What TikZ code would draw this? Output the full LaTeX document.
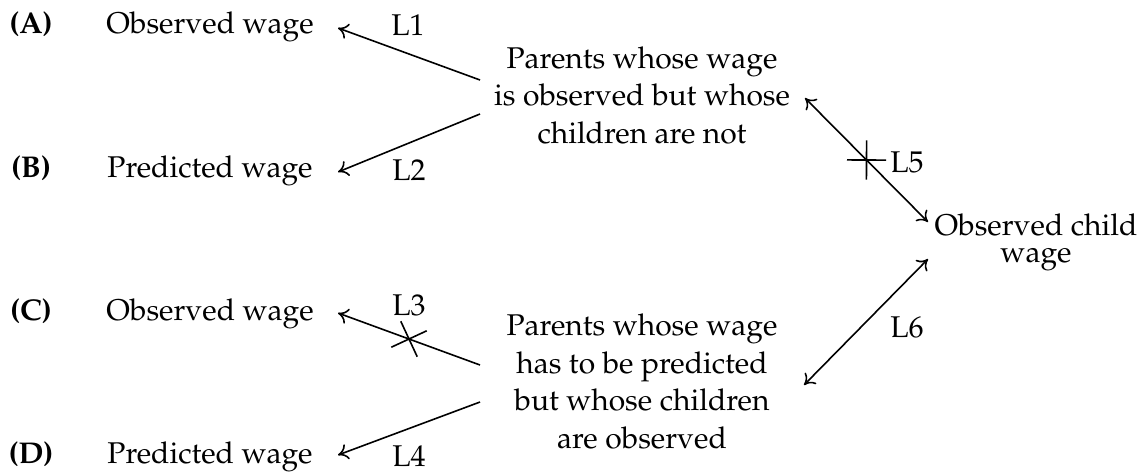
\documentclass[tikz,border=0pt]{standalone}
\usepackage[T1]{fontenc}
\usepackage{mathpazo}
\usetikzlibrary{arrows.meta,calc,shapes.misc}
\begin{document}
\begin{tikzpicture}[x=0.5pt,y=-0.5pt,
  txt/.style={inner sep=0pt,anchor=base,font=\fontsize{15}{18.75}\selectfont},
  lab/.style={txt,font=\fontsize{15}{18.75}\selectfont\bfseries},
  tip/.style={},
  arr/.style={line width=0.8pt,-{To[length=5pt,width=8pt]}},
  darr/.style={line width=0.8pt,{To[length=5pt,width=8pt]}-{To[length=5pt,width=8pt]}},
  xmark/.style={draw,cross out,sloped,line width=0.8pt,inner sep=0pt,minimum size=13pt}]
\useasboundingbox (0,0) rectangle (1144,473);
% row labels
\node[lab] (la) at (31,33) {(A)};
\node[lab] (lb) at (31,177) {(B)};
\node[lab] (lc) at (31,320) {(C)};
\node[lab] (ld) at (31,463) {(D)};
% left nodes
\node[txt] (oa) at (210,33) {Observed wage};
\node[txt] (pb) at (210,177) {Predicted wage};
\node[txt] (oc) at (210,320) {Observed wage};
\node[txt] (pd) at (210,463) {Predicted wage};
% parents nodes
\node[txt] (p1) at (642,143) {\begin{tabular}[b]{@{}c@{}}Parents whose wage\\ is observed but whose\\ children are not\end{tabular}};
\node[txt] (p2) at (642,448) {\begin{tabular}[b]{@{}c@{}}Parents whose wage\\ has to be predicted\\ but whose children\\ are observed\end{tabular}};
% child node
\node[txt] (ch) at (1036,262) {\renewcommand{\arraystretch}{0.72}\begin{tabular}[b]{@{}c@{}}Observed child\\ wage\end{tabular}};
% connectors
\draw[arr] ($(p1.base)+(-162,-63)$) -- ($(oa.base)+(128,-5)$);
\draw[arr] ($(p1.base)+(-162,-29)$) -- ($(pb.base)+(128,-5)$);
\draw[arr] ($(p2.base)+(-162,-83)$) -- node[xmark,pos=0.5]{} ($(oc.base)+(128,-7)$);
\draw[arr] ($(p2.base)+(-162,-46)$) -- ($(pd.base)+(128,-8)$);
\draw[darr] ($(p1.base)+(163,-45)$) -- node[xmark,pos=0.5]{} ($(ch.base)+(-108,-40)$);
\draw[darr] ($(p2.base)+(162,-63)$) -- ($(ch.base)+(-108,-3)$);
% connector labels
\node[txt] (l1) at (408,35) {L1};
\node[txt] (l2) at (409,180) {L2};
\node[txt] (l3) at (409,315) {L3};
\node[txt] (l4) at (409,466) {L4};
\node[txt] (l5) at (907,172) {L5};
\node[txt] (l6) at (907,337) {L6};
\end{tikzpicture}
\end{document}
